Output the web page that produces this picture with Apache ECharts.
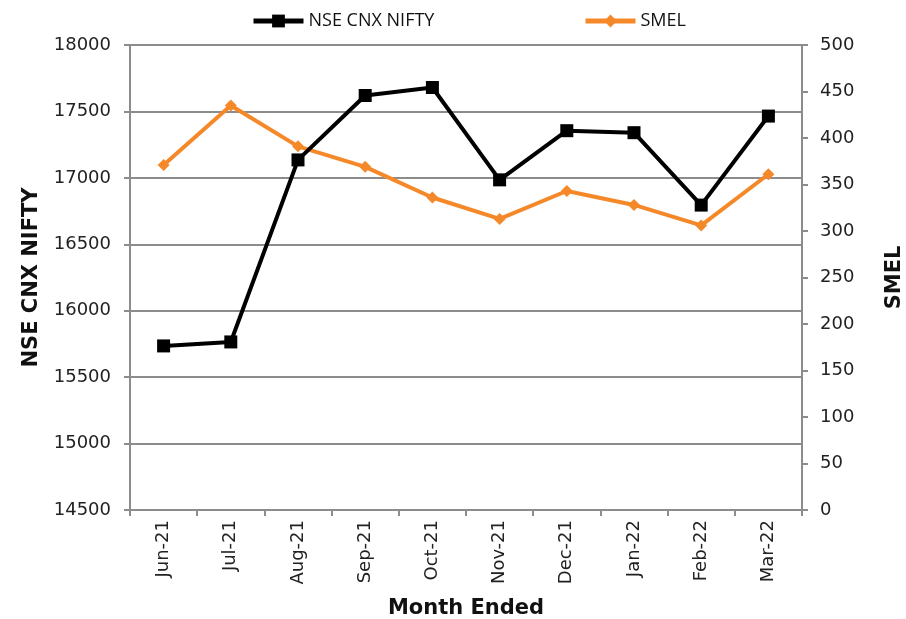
<!DOCTYPE html>
<html><head><meta charset="utf-8">
<script src="https://cdn.jsdelivr.net/npm/echarts@6/dist/echarts.min.js"></script>
<style>html,body{margin:0;padding:0;background:#fff}#c{width:906px;height:619px}</style>
</head><body><div id="c"></div>
<script>
const categories = ['Jun-21','Jul-21','Aug-21','Sep-21','Oct-21','Nov-21','Dec-21','Jan-22','Feb-22','Mar-22'];
const nifty = [15735, 15765, 17135, 17620, 17680, 16985, 17355, 17340, 16795, 17465];
const smel = [371, 435, 391, 369, 336, 313, 343, 328, 306, 361];
const leftTicks = {min: 14500, max: 18000, interval: 500};
const rightTicks = {min: 0, max: 500, interval: 50};

const chart = echarts.init(document.getElementById('c'));
const axisColor = '#8c8c8c';
const labelStyle = {fontFamily: 'DejaVu Sans', fontSize: 18, color: '#222'};
const nameStyle = {fontFamily: 'DejaVu Sans', fontSize: 21, fontWeight: 'bold', color: '#111'};
const plain = v => String(v);
chart.setOption({
  animation: false,
  grid: {left: 130, right: 104, top: 45, bottom: 109, containLabel: false, outerBoundsMode: 'none'},
  legend: [
    {data: ['NSE CNX NIFTY'], left: 246, top: 7, itemWidth: 50, itemHeight: 16, itemGap: 4,
     lineStyle: {width: 5},
     textStyle: {fontFamily: 'Open Sans', fontSize: 18, color: '#111'}},
    {data: ['SMEL'], left: 578, top: 7, itemWidth: 50, itemHeight: 16,
     lineStyle: {width: 5},
     textStyle: {fontFamily: 'Open Sans', fontSize: 18, color: '#111'}}
  ],
  xAxis: {
    type: 'category', data: categories, boundaryGap: true,
    name: 'Month Ended', nameLocation: 'middle', nameGap: 88,
    nameTextStyle: nameStyle,
    axisLine: {lineStyle: {color: axisColor, width: 2}},
    axisTick: {show: true, length: 6, lineStyle: {color: axisColor, width: 2}},
    axisLabel: Object.assign({rotate: 90, margin: 10}, labelStyle)
  },
  yAxis: [
    {type: 'value', min: leftTicks.min, max: leftTicks.max, interval: leftTicks.interval,
     name: 'NSE CNX NIFTY', nameLocation: 'middle', nameGap: 88, nameRotate: 90,
     nameTextStyle: nameStyle,
     axisLine: {show: true, lineStyle: {color: axisColor, width: 2}},
     axisTick: {show: true, length: 6, lineStyle: {color: axisColor, width: 2}},
     axisLabel: Object.assign({margin: 19, formatter: plain}, labelStyle),
     splitLine: {show: true, lineStyle: {color: axisColor, width: 2}}},
    {type: 'value', position: 'right', min: rightTicks.min, max: rightTicks.max, interval: rightTicks.interval,
     name: 'SMEL', nameLocation: 'middle', nameGap: 82, nameRotate: 90,
     nameTextStyle: nameStyle,
     axisLine: {show: true, lineStyle: {color: axisColor, width: 2}},
     axisTick: {show: true, length: 6, lineStyle: {color: axisColor, width: 2}},
     axisLabel: Object.assign({margin: 18, formatter: plain}, labelStyle),
     splitLine: {show: false}}
  ],
  series: [
    {name: 'NSE CNX NIFTY', type: 'line', yAxisIndex: 0, data: nifty,
     symbol: 'rect', symbolSize: 13, z: 3,
     lineStyle: {color: '#000', width: 4}, itemStyle: {color: '#000'}},
    {name: 'SMEL', type: 'line', yAxisIndex: 1, data: smel,
     symbol: 'diamond', symbolSize: 12, z: 2,
     lineStyle: {color: '#F5892A', width: 4}, itemStyle: {color: '#F5892A'}}
  ]
});
</script></body></html>
